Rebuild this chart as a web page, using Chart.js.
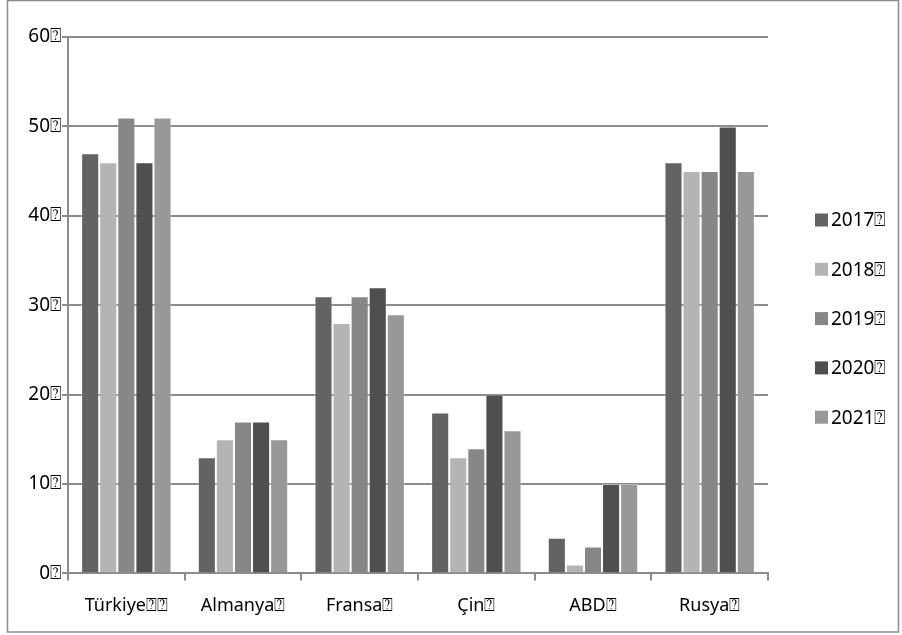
<!DOCTYPE html>
<html>
<head>
<meta charset="utf-8">
<script src="https://cdn.jsdelivr.net/npm/chart.js@4/dist/chart.umd.min.js"></script>
<style>
  html, body { margin: 0; padding: 0; background: #fff; }
  #wrap { position: relative; width: 902px; height: 635px; }
</style>
</head>
<body>
<div id="wrap"><canvas id="c" width="902" height="635"></canvas></div>
<script>
// Countries on the x axis
const categories = ['Türkiye⍰⍰', 'Almanya⍰', 'Fransa⍰', 'Çin⍰', 'ABD⍰', 'Rusya⍰'];
// One series per year
const years = ['2017⍰', '2018⍰', '2019⍰', '2020⍰', '2021⍰'];
const v2017 = [47, 13, 31, 18, 4, 46];
const v2018 = [46, 15, 28, 13, 1, 45];
const v2019 = [51, 17, 31, 14, 3, 45];
const v2020 = [46, 17, 32, 20, 10, 50];
const v2021 = [51, 15, 29, 16, 10, 45];
const yTicks = [0, 10, 20, 30, 40, 50, 60];
const yTickSuffix = '⍰';

const seriesValues = [v2017, v2018, v2019, v2020, v2021];
const seriesColors = ['#636363', '#b4b4b4', '#878787', '#4f4f4f', '#989898'];

const AXIS = '#8c8c8c';
const LABEL_FONT = '"Noto Sans", "DejaVu Sans", sans-serif';

// Frame around the whole chart
const framePlugin = {
  id: 'frame',
  beforeDraw(chart) {
    const ctx = chart.ctx;
    ctx.save();
    ctx.fillStyle = '#fff';
    ctx.fillRect(0, 0, chart.width, chart.height);
    ctx.strokeStyle = '#8a8a8a';
    ctx.lineWidth = 1.5;
    ctx.strokeRect(7.5, 0.5, 891, 631.5);
    ctx.restore();
  }
};

// Legend column on the right
const sideLegend = {
  id: 'sideLegend',
  afterDraw(chart) {
    const ctx = chart.ctx;
    ctx.save();
    ctx.font = '19px ' + LABEL_FONT;
    ctx.textBaseline = 'middle';
    chart.data.datasets.forEach((ds, i) => {
      const y = 220 + i * 49.3;
      ctx.fillStyle = ds.backgroundColor;
      ctx.fillRect(815, y - 6.5, 13, 13);
      ctx.fillStyle = '#000';
      ctx.fillText(ds.label, 831, y + 1);
    });
    ctx.restore();
  }
};

new Chart(document.getElementById('c'), {
  type: 'bar',
  data: {
    labels: categories,
    datasets: years.map((y, i) => ({
      label: y,
      data: seriesValues[i],
      backgroundColor: seriesColors[i],
      borderColor: 'rgba(255,255,255,0.35)',
      borderWidth: 1,
      categoryPercentage: 0.775,
      barPercentage: 1.0
    }))
  },
  options: {
    responsive: false,
    animation: false,
    layout: { padding: { top: 37, right: 134, bottom: 3, left: 0 } },
    plugins: {
      legend: { display: false },
      tooltip: { enabled: false }
    },
    scales: {
      x: {
        grid: {
          display: true,
          drawOnChartArea: false,
          drawTicks: true,
          tickLength: 7,
          color: AXIS,
          lineWidth: 2,
          offset: true
        },
        border: { display: true, color: AXIS, width: 2 },
        ticks: {
          color: '#000',
          font: { family: LABEL_FONT, size: 18 },
          padding: 15,
          maxRotation: 0,
          autoSkip: false
        }
      },
      y: {
        min: 0,
        max: 60,
        afterFit(scale) { scale.width = 68; },
        afterBuildTicks(scale) { scale.ticks = yTicks.map(v => ({ value: v })); },
        grid: {
          color: AXIS,
          lineWidth: 2,
          drawTicks: true,
          tickLength: 6
        },
        border: { display: true, color: AXIS, width: 2 },
        ticks: {
          color: '#000',
          font: { family: LABEL_FONT, size: 19 },
          padding: 1,
          callback: v => v + yTickSuffix
        }
      }
    }
  },
  plugins: [framePlugin, sideLegend]
});
</script>
</body>
</html>
